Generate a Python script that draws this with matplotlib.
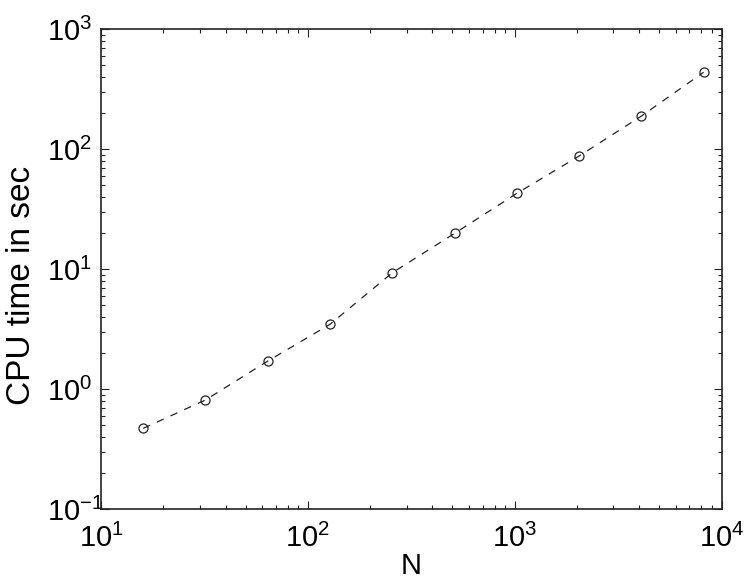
import numpy as np
import matplotlib
matplotlib.use('Agg')
import matplotlib.pyplot as plt
from matplotlib.ticker import LogLocator, FixedLocator

plt.rcParams['font.family'] = ['Liberation Sans', 'DejaVu Sans']
plt.rcParams['mathtext.fontset'] = 'custom'
plt.rcParams['mathtext.rm'] = 'Liberation Sans'
plt.rcParams['mathtext.it'] = 'Liberation Sans'

# problem size and cpu time
n_vals = [16, 32, 64, 128, 256, 512, 1024, 2048, 4096, 8192]
cpu_time = [0.47, 0.81, 1.71, 3.46, 9.3, 19.8, 42.7, 87.4, 188, 436]

x_ticks = [1e1, 1e2, 1e3, 1e4]
x_labels = ['$10^{1}$', '$10^{2}$', '$10^{3}$', '$10^{4}$']
y_ticks = [1e-1, 1e0, 1e1, 1e2, 1e3]
y_labels = ['$10^{-1}$', '$10^{0}$', '$10^{1}$', '$10^{2}$', '$10^{3}$']

fig = plt.figure(figsize=(7.47, 5.85), dpi=100)
ax = fig.add_axes([0.1352, 0.1299, 0.8307, 0.8205])

ax.plot(n_vals, cpu_time, color='#222222', linestyle=(0, (6, 6)), linewidth=0.9,
        marker='o', markersize=6.5, markerfacecolor='none',
        markeredgecolor='#222222', markeredgewidth=0.9)

ax.set_xscale('log')
ax.set_yscale('log')
ax.set_xlim(10, 1e4)
ax.set_ylim(0.1, 1000)

ax.xaxis.set_major_locator(FixedLocator(x_ticks))
ax.set_xticklabels(x_labels)
ax.yaxis.set_major_locator(FixedLocator(y_ticks))
ax.set_yticklabels(y_labels)
ax.xaxis.set_minor_locator(LogLocator(base=10, subs=np.arange(2, 10)))
ax.yaxis.set_minor_locator(LogLocator(base=10, subs=np.arange(2, 10)))

ax.tick_params(which='both', direction='in', top=True, right=True,
               width=0.8, colors='#222222', labelcolor='black')
ax.tick_params(which='major', length=6, labelsize=21)
ax.tick_params(axis='x', which='major', pad=11)
# y labels are left aligned in the original
ax.tick_params(axis='y', which='major', pad=38.9)
ax.tick_params(which='minor', length=3)
for lab in ax.get_yticklabels():
    lab.set_ha('left')

for s in ax.spines.values():
    s.set_linewidth(1.2)
    s.set_color('#222222')

ax.set_xlabel('N', fontsize=21)
ax.xaxis.set_label_coords(0.5, -0.119)
ax.xaxis.label.set_va('center')
ax.set_ylabel('CPU time in sec', fontsize=24)
ax.yaxis.set_label_coords(-0.103, 0.465)

fig.savefig('out.png', dpi=100)
